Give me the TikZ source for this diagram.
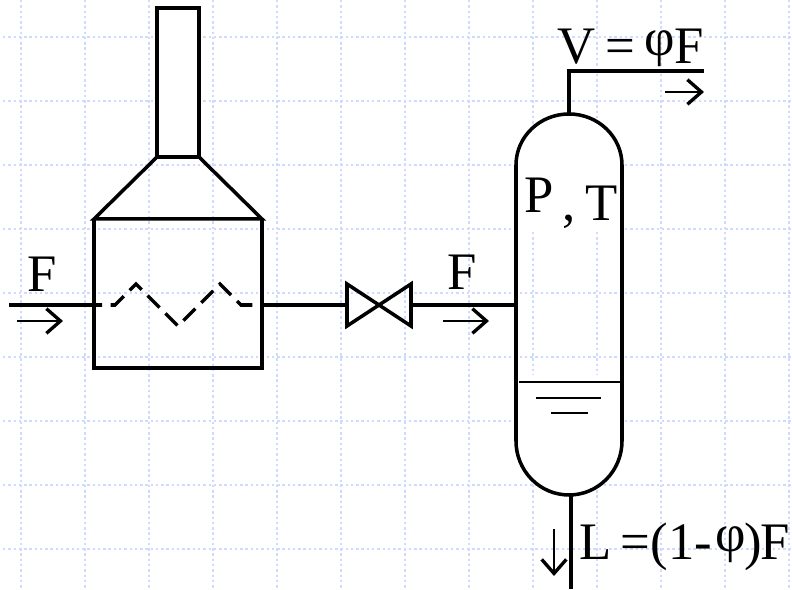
\documentclass[tikz,border=0pt]{standalone}
\usepackage{fontspec}
\setmainfont{Liberation Serif}
\usetikzlibrary{arrows.meta,positioning}
\definecolor{gridblue}{RGB}{205,220,250}
\newcommand{\uphi}{\raisebox{4.6pt}{φ}}

\begin{document}
\begin{tikzpicture}[
    x=0.02cm,
    y=-0.02cm,
    gridline/.style={draw=gridblue, line width=1.2pt, dash pattern=on 1.4pt off 1.6pt},
    pipe/.style={draw, line width=2pt, line join=miter},
    coil/.style={pipe, dash pattern=on 9.6pt off 4.8pt, dash phase=5pt},
    blank/.style={fill=white, draw=none},
    thinline/.style={draw, line width=0.65pt},
    flow/.style={-{Straight Barb[length=8pt,width=14pt,line width=1.9pt]}, line width=1.2pt},
    label/.style={font=\fontsize{30}{32}\selectfont, inner sep=0pt, anchor=base west}
]
    \useasboundingbox (0,0) rectangle (792,590);

    % slide background
    \foreach \gx in {21,85,...,789}
        \draw[gridline] (\gx,0) -- (\gx,590);
    \foreach \gy in {37,101,...,549}
        \draw[gridline] (3,\gy) -- (792,\gy);

    % furnace
    \draw[pipe, fill=white] (157,8) rectangle (199,157);
    \coordinate (hoodl) at (94,219);
    \coordinate (hoodr) at (262,219);
    \coordinate (boxbl) at (94,368);
    \coordinate (boxbr) at (262,368);
    \draw[pipe] (157,157) -- (hoodl) -- (hoodr) -- (199,157);
    \draw[pipe] (hoodl) -- (boxbl) -- (boxbr) -- (hoodr);

    % coil
    \coordinate (feedin) at (9,305);
    \coordinate (coilin) at (94,305);
    \coordinate (coilout) at (262,305);
    \draw[pipe] (feedin) -- (coilin);
    \draw[coil] (coilin) -- (115,305) -- (136,284) -- (178,326) -- (220,284) -- (241,305) -- (coilout);

    % valve
    \coordinate (valvel) at (347,305);
    \coordinate (valver) at (411,305);
    \draw[pipe] (coilout) -- (valvel);
    \draw[pipe] (347,284) -- (411,326) -- (411,284) -- (347,326) -- cycle;

    % flash drum
    \fill[blank] (516,230) -- (516,165) arc[start angle=180, end angle=0, x radius=53, y radius=-51] -- (622,230) -- cycle;
    \fill[blank] (516,375) -- (516,441) arc[start angle=180, end angle=360, x radius=53, y radius=-54] -- (622,375) -- cycle;
    \draw[pipe] (516,165) arc[start angle=180, end angle=0, x radius=53, y radius=-51]
        -- (622,441) arc[start angle=0, end angle=-180, x radius=53, y radius=-54] -- cycle;
    \coordinate (drumin) at (516,305);
    \coordinate (drumtop) at (569,114);
    \coordinate (drumbot) at (571,495);
    \draw[pipe] (valver) -- (drumin);
    \draw[pipe] (drumtop) -- (569,71) -- (704,71);
    \draw[pipe] (drumbot) -- (571,589);

    % liquid level
    \draw[thinline] (519,382) -- (620,382);
    \draw[thinline] (536,398) -- (601,398);
    \draw[thinline] (551,413) -- (588,413);

    % flow arrows
    \coordinate (a1s) at (17,321);
    \coordinate (a1e) at (63,321);
    \coordinate (a2s) at (443,321);
    \coordinate (a2e) at (489,321);
    \coordinate (a3s) at (665,92);
    \coordinate (a3e) at (704,92);
    \coordinate (a4s) at (554,529);
    \coordinate (a4e) at (554,576);
    \draw[flow] (a1s) -- (a1e);
    \draw[flow] (a2s) -- (a2e);
    \draw[flow] (a3s) -- (a3e);
    \draw[flow] (a4s) -- (a4e);

    \node[label] (fin) at (27,292) {F};
    \node[label] (fout) at (447,290) {F};
    \node[label] (vap) at (557,64) {V\hspace{6pt}=\hspace{5pt}\uphi{}F};
    \node[label] (pt) at (524,213) {P\hspace{5pt}\raisebox{-4pt}{,\hspace{5.5pt}T}};
    \node[label] (liq) at (579,560) {L\hspace{5pt}=\hspace{0.5pt}(1-\hspace{2pt}\uphi{}\hspace{-1pt})\hspace{-1pt}F};
\end{tikzpicture}
\end{document}
